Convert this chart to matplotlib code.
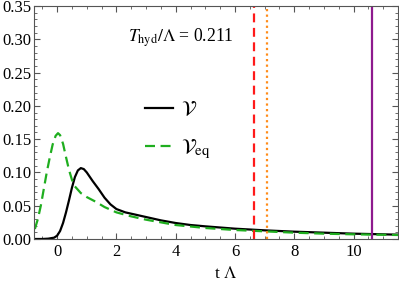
import numpy as np
import matplotlib
matplotlib.use("Agg")
from matplotlib import pyplot as plt
from matplotlib.ticker import MultipleLocator

plt.rcParams['font.family'] = ['Liberation Serif', 'DejaVu Serif']
plt.rcParams['mathtext.fontset'] = 'stix'

# V (black, solid)
t_v = [-0.75, -0.5, -0.3, -0.1, 0.0, 0.1, 0.2, 0.3, 0.4, 0.5, 0.6, 0.7, 0.8, 0.9,
       1.0, 1.2, 1.4, 1.6, 1.8, 2.0, 2.3, 2.6, 3.0, 3.5, 4.0, 4.5, 5.0, 6.0, 7.0,
       8.0, 9.0, 10.0, 11.5]
v = [0.0, 0.0, 0.0005, 0.002, 0.005, 0.012, 0.024, 0.040, 0.058, 0.077, 0.093,
     0.103, 0.1065, 0.105, 0.100, 0.087, 0.075, 0.062, 0.052, 0.045, 0.040, 0.037,
     0.033, 0.028, 0.024, 0.021, 0.019, 0.0155, 0.013, 0.011, 0.0095, 0.008, 0.0065]

# V_eq (green, dashed)
t_veq = [-0.75, -0.65, -0.55, -0.45, -0.35, -0.25, -0.15, -0.05, 0.03, 0.1, 0.2,
         0.3, 0.4, 0.5, 0.6, 0.8, 1.0, 1.3, 1.6, 2.0, 2.5, 3.0, 3.5, 4.0, 5.0, 6.0,
         7.0, 8.0, 9.0, 10.0, 11.5]
v_eq = [0.015, 0.030, 0.050, 0.075, 0.100, 0.122, 0.142, 0.155, 0.159, 0.156,
        0.143, 0.123, 0.104, 0.089, 0.079, 0.069, 0.063, 0.056, 0.048, 0.040,
        0.034, 0.029, 0.025, 0.021, 0.0165, 0.0135, 0.0115, 0.0095, 0.008, 0.007,
        0.006]

# vertical markers
t_red = 6.65
t_orange = 7.08
t_purple = 10.63

fig = plt.figure(figsize=(3.99, 2.83), dpi=100)
ax = fig.add_axes([0.0852, 0.1555, 0.9123, 0.8233])

ax.plot(t_v, v, color='black', lw=1.6, label=r'$\mathcal{V}$')
ax.plot(t_veq, v_eq, color='#1fae1f', lw=1.6, ls=(0, (4.5, 2.5)),
        label=r'$\mathcal{V}_{\mathrm{eq}}$')
ax.axvline(t_red, color='#ff1a1a', lw=1.6, ls=(0, (4, 2.5)))
ax.axvline(t_orange, color='#ff8c1a', lw=1.6, ls=(0, (1, 1.5)))
ax.axvline(t_purple, color='#8e1a8e', lw=1.6)

ax.set_xlim(-0.78, 11.5)
ax.set_ylim(0, 0.35)
ax.xaxis.set_major_locator(MultipleLocator(2))
ax.xaxis.set_minor_locator(MultipleLocator(0.5))
ax.yaxis.set_major_locator(MultipleLocator(0.05))
ax.yaxis.set_minor_locator(MultipleLocator(0.01))
ax.yaxis.set_major_formatter(lambda y, p: f"{y:.2f}")
ax.tick_params(which='both', direction='in', top=True, right=True, labelsize=12,
               colors='#555555', labelcolor='black')
ax.tick_params(which='major', length=4, width=0.8)
ax.tick_params(which='minor', length=2, width=0.6)
ax.tick_params(axis='y', pad=2)
for s in ax.spines.values():
    s.set_color('#555555')

ax.set_xlabel(r't $\Lambda$', fontsize=12.5)
ax.xaxis.set_label_coords(0.527, -0.115)

ax.text(0.258, 0.863, r'$T_{\mathrm{hyd}}/\Lambda$ = 0.211', transform=ax.transAxes,
        fontsize=12.7, va='center', ha='left')

ax.legend(loc='upper left', bbox_to_anchor=(0.275, 0.64), frameon=False,
          fontsize=15, handlelength=1.35, handletextpad=0.4, labelspacing=0.85,
          borderpad=0)

fig.savefig('out.png', dpi=100)
